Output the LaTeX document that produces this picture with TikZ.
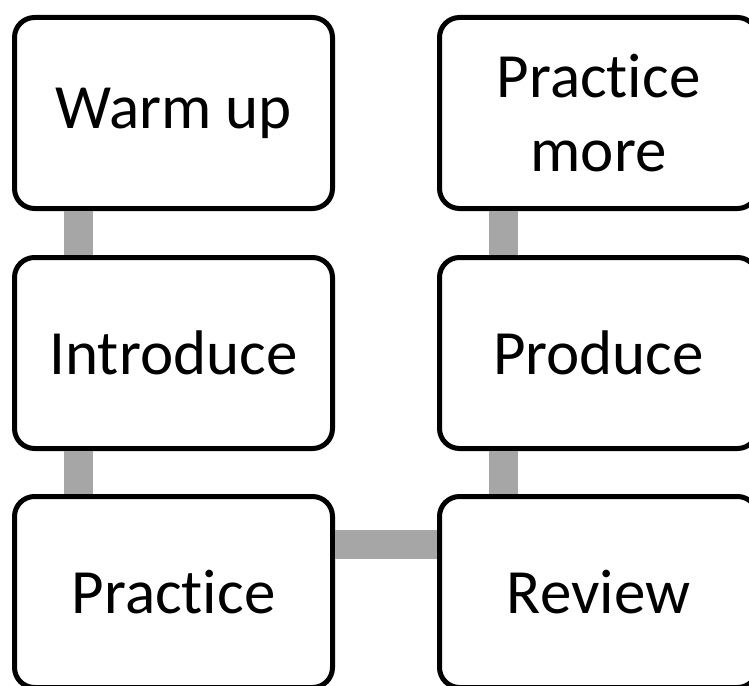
\documentclass[tikz,border=0pt]{standalone}
\usepackage{fontspec}
\setmainfont{Carlito}[Ligatures={NoCommon}]
\definecolor{conngray}{HTML}{A6A6A6}
\begin{document}
\begin{tikzpicture}[x=1pt,y=-1pt,
  stagebox/.style={draw=black, fill=white, line width=5pt, rounded corners=20pt,
    minimum width=318pt, minimum height=191pt, inner sep=0pt, align=center,
    font=\fontsize{63}{74}\selectfont},
  conn/.style={draw=conngray, line width=29pt}]
\useasboundingbox (0,0) rectangle (749,685);
\coordinate (cl) at (78,0);
\coordinate (cr) at (503,0);
\coordinate (ch) at (0,544.5);
\node[stagebox] (warm) at (173.5,113) {Warm up};
\node[stagebox] (intro) at (173.5,353) {Introduce};
\node[stagebox] (prac) at (173.5,592) {Practice};
\node[stagebox] (more) at (598.5,113) {Practice\\more};
\node[stagebox] (prod) at (598.5,353) {Produce};
\node[stagebox] (rev) at (598.5,592) {Review};
\path[conn] (cl |- warm.south) -- (cl |- intro.north);
\path[conn] (cl |- intro.south) -- (cl |- prac.north);
\path[conn] (cr |- more.south) -- (cr |- prod.north);
\path[conn] (cr |- prod.south) -- (cr |- rev.north);
\path[conn] (prac.east |- ch) -- (rev.west |- ch);
\end{tikzpicture}
\end{document}
